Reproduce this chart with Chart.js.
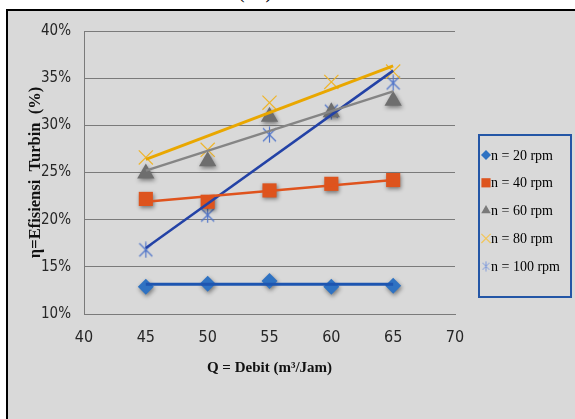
<!DOCTYPE html>
<html>
<head>
<meta charset="utf-8">
<script src="https://cdn.jsdelivr.net/npm/chart.js@4.4.1/dist/chart.umd.min.js"></script>
<style>
  html, body { margin: 0; padding: 0; background: #fff; }
  #wrap { position: relative; width: 575px; height: 419px; overflow: hidden; }
  #frame { position: absolute; left: 6px; top: 9px; right: -4px; bottom: -4px; border: 2px solid #000; background: #d9d9d9; }
  #cap { position: absolute; left: 238px; top: -20px; font: 20px "Liberation Serif"; letter-spacing: 6px; color: #000; }
  canvas { position: absolute; left: 0; top: 0; }
</style>
</head>
<body>
<div id="wrap">
  <div id="cap">(a)</div>
  <div id="frame"></div>
  <canvas id="chart" width="575" height="419"></canvas>
</div>
<script>
/* ── Data ── */
const debit   = [45, 50, 55, 60, 65];
const speeds  = ['n = 20 rpm', 'n = 40 rpm', 'n = 60 rpm', 'n = 80 rpm', 'n = 100 rpm'];
const eff20   = [12.9, 13.2, 13.5, 12.9, 13.0];
const eff40   = [22.2, 21.9, 23.1, 23.8, 24.2];
const eff60   = [24.9, 26.2, 30.9, 31.4, 32.6];
const eff80   = [26.6, 27.4, 32.4, 34.6, 35.7];
const eff100  = [16.8, 20.5, 29.0, 31.5, 34.5];

// linear trendline end points (x = 45 and x = 65)
const trendX   = [45, 65];
const trend20  = [13.15, 13.15];
const trend40  = [21.9, 24.2];
const trend60  = [25.2, 33.6];
const trend80  = [26.4, 36.3];
const trend100 = [17.0, 35.8];

const xTicks = [40, 45, 50, 55, 60, 65, 70];
const yTicks = [10, 15, 20, 25, 30, 35, 40];

/* ── Asterisk marker (vertical bar + X) ── */
function asterisk(color, w, h, lw) {
  const c = document.createElement('canvas');
  c.width = w; c.height = h;
  const g = c.getContext('2d');
  g.strokeStyle = color; g.lineWidth = lw;
  g.beginPath();
  g.moveTo(w / 2, 0.5); g.lineTo(w / 2, h - 0.5);
  g.moveTo(1, 2); g.lineTo(w - 1, h - 2);
  g.moveTo(w - 1, 2); g.lineTo(1, h - 2);
  g.stroke();
  return c;
}
const starBig = asterisk('#4f74c9', 15, 17, 1.2);
const starSmall = asterisk('#7f9bdc', 9, 11, 1);

const pts = ys => debit.map((x, i) => ({ x, y: ys[i] }));
const line = ys => trendX.map((x, i) => ({ x, y: ys[i] }));

function trend(ys, color, w) {
  return { data: line(ys), showLine: true, borderColor: color, borderWidth: w, pointRadius: 0, pointHoverRadius: 0 };
}

const markers = [
  { label: speeds[0], data: pts(eff20), pointStyle: 'rectRot', pointRadius: 8, backgroundColor: '#2f72c2', borderColor: '#2f72c2', borderWidth: 0, shadow: true, legendRadius: 5 },
  { label: speeds[1], data: pts(eff40), pointStyle: 'rect', pointRadius: 10, backgroundColor: '#dd541e', borderColor: '#dd541e', borderWidth: 0, shadow: true, legendRadius: 6.5 },
  { label: speeds[2], data: pts(eff60), pointStyle: 'triangle', pointRadius: 10, backgroundColor: '#6e6e6e', borderColor: '#6e6e6e', borderWidth: 0, shadow: true, legendRadius: 5.5, legendColor: '#7a7a7a' },
  { label: speeds[3], data: pts(eff80), pointStyle: 'crossRot', pointRadius: 10, backgroundColor: '#efb52c', borderColor: '#efb52c', borderWidth: 1.2, legendRadius: 6.5, legendColor: '#f2c65a' },
  { label: speeds[4], data: pts(eff100), pointStyle: starBig, pointRadius: 8, backgroundColor: '#4f74c9', borderColor: '#4f74c9', borderWidth: 1, legendStyle: starSmall }
];
markers.forEach(m => { m.showLine = false; m.pointHoverRadius = m.pointRadius; });

const trends = [
  trend(trend20, '#1d55b0', 3),
  trend(trend40, '#df531d', 2.5),
  trend(trend60, '#858585', 2.5),
  trend(trend80, '#e9a700', 3),
  trend(trend100, '#2342a6', 2.5)
];

/* ── Plugins: marker shadow + boxed legend ── */
const markerShadow = {
  id: 'markerShadow',
  beforeDatasetDraw(chart, args) {
    if (!chart.data.datasets[args.index].shadow) return;
    const ctx = chart.ctx;
    ctx.save();
    ctx.shadowColor = 'rgba(0,0,0,0.45)';
    ctx.shadowBlur = 4;
    ctx.shadowOffsetX = 1;
    ctx.shadowOffsetY = 2;
  },
  afterDatasetDraw(chart, args) {
    if (chart.data.datasets[args.index].shadow) chart.ctx.restore();
  }
};

const boxLegend = {
  id: 'boxLegend',
  afterDraw(chart) {
    const ctx = chart.ctx;
    ctx.save();
    ctx.strokeStyle = '#2456a6';
    ctx.lineWidth = 2;
    ctx.strokeRect(479, 135, 92, 162);
    ctx.font = '14px "Liberation Serif"';
    ctx.textBaseline = 'middle';
    markers.forEach((m, i) => {
      const y = 155 + i * 27.8;
      ctx.fillStyle = m.legendColor || m.backgroundColor;
      ctx.strokeStyle = m.legendColor || m.borderColor;
      ctx.lineWidth = m.borderWidth;
      Chart.helpers.drawPoint(ctx, { pointStyle: m.legendStyle || m.pointStyle, radius: m.legendRadius || 5, borderWidth: m.borderWidth, rotation: 0 }, 486, y);
      ctx.fillStyle = '#000';
      ctx.fillText(m.label, 491, y + 1);
    });
    ctx.restore();
  }
};

const narrow = '"Liberation Sans Narrow", "DejaVu Sans Condensed", sans-serif';

new Chart(document.getElementById('chart'), {
  type: 'scatter',
  data: { datasets: [...trends, ...markers] },
  options: {
    responsive: false,
    animation: false,
    layout: { padding: { left: 10, top: 31, right: 120, bottom: 35 } },
    plugins: { legend: { display: false }, tooltip: { enabled: false } },
    scales: {
      x: {
        type: 'linear', min: 40, max: 70,
        afterBuildTicks: s => { s.ticks = xTicks.map(v => ({ value: v })); },
        afterFit: s => { s.height = 70; },
        grid: { display: false, drawTicks: false },
        border: { color: '#7a7a7a', width: 1 },
        ticks: { padding: 14, color: '#262626', font: { family: narrow, size: 16 } },
        title: { display: true, text: 'Q = Debit (m³/Jam)', color: '#111', padding: { top: 0, bottom: 7 },
                 font: { family: '"Liberation Serif"', size: 15, weight: 'bold' } }
      },
      y: {
        min: 10, max: 40,
        afterBuildTicks: s => { s.ticks = yTicks.map(v => ({ value: v })); },
        afterFit: s => { s.width = 74; },
        grid: { color: '#7a7a7a', lineWidth: 1, drawTicks: false },
        border: { color: '#7a7a7a', width: 1 },
        ticks: { padding: 13, color: '#262626', font: { family: narrow, size: 15 }, callback: v => v + '%' },
        title: { display: true, text: 'η=Efisiensi  Turbin  (%)', color: '#111', padding: { top: 16, bottom: 0 },
                 font: { family: '"Liberation Serif"', size: 16.5, weight: 'bold' } }
      }
    }
  },
  plugins: [markerShadow, boxLegend]
});
</script>
</body>
</html>
